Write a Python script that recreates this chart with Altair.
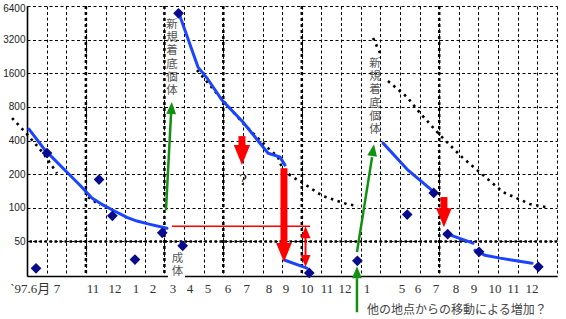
import altair as alt
import pandas as pd

# ---------------- axis geometry (data units) ----------------
U_MAX = 27                     # slot index along the (hand-drawn) time axis
V_MIN, V_MAX = 24.5, 6400      # log2 value axis
y_ticks = [50, 100, 200, 400, 800, 1600, 3200, 6400]
grid_u = list(range(0, U_MAX + 1))
thick_u = [3, 7, 10, 14, 21]
thick_v = [50]

month_labels = ["`97.6月", "7", "11", "12", "1", "2", "3", "4", "5", "6", "7", "8",
                "9", "10", "11", "12", "1", "5", "6", "7", "8", "9", "10", "11", "12"]
month_pos = [0.17, 1.53, 3.36, 4.48, 5.55, 6.42, 7.44, 8.30, 9.22, 10.24, 11.2, 12.33,
             13.19, 14.26, 15.28, 16.2, 17.32, 19.1, 19.92, 20.84, 21.85, 22.77, 23.84, 24.79, 25.73]
month_level = 18.6

# ---------------- observed densities (diamonds) ----------------
diam_u = [0.46, 1.02, 3.67, 4.35, 5.50, 6.89, 7.72, 7.93, 14.38, 16.83, 19.37, 20.72, 21.43, 23.03, 26.05]
diam_v = [28.7, 309, 179, 84.7, 34.4, 59.7, 5500, 45.6, 26.1, 33.5, 87, 135.7, 58, 40.3, 29.6]

# ---------------- blue fitted lines ----------------
blueA_u = [0.10, 0.92, 2.04, 2.70, 3.31, 3.87, 4.38, 5.09, 5.60, 6.27, 7.13]
blueA_v = [505, 328, 208, 159, 122, 106, 95, 82, 76, 71, 65.5]
blueB_u = [7.74, 8.71, 9.17, 9.93, 11.0, 11.46, 12.28, 12.89, 13.14]
blueB_v = [5500, 1816, 1450, 921, 585, 465, 308, 284, 241]
blueC_u = [13.14, 14.26]
blueC_v = [33.9, 28.8]
blueD_u = [18.14, 19.41, 20.68]
blueD_v = [379, 217, 141]
blueE_u = [21.29, 22.72]
blueE_v = [59.2, 48.2]
blueF_u = [22.82, 23.33, 24.10, 24.76, 25.73]
blueF_v = [41.7, 37.6, 35.4, 33.9, 31.9]

# ---------------- black dotted curves ----------------
dot1a_u = [-0.76, 0.0, 0.82, 1.53]
dot1a_v = [636, 456, 309, 204]
dot1b_u = [3.11, 3.72]
dot1b_v = [124.7, 105.7]
dot2_u = [8.66, 9.83, 11.0, 12.23, 12.79, 13.04, 13.55, 14.06, 15.08, 16.30, 16.86]
dot2_v = [1707, 979, 573, 349, 284, 217, 188, 166, 127, 108, 103.5]
dot3a_u = [17.63, 18.03]
dot3a_v = [3308, 2329]
dot3b_u = [18.39, 19.36, 20.02, 21.04, 22.16, 23.23, 24.25, 25.62, 26.49]
dot3b_v = [1362, 979, 705, 447, 284, 196, 138, 108, 101]

# ---------------- arrows ----------------
GREEN = "#119011"
RED = "#ff0000"
shaft_u = [7.08, 16.81, 16.81, 10.95, 13.09, 14.19, 21.24]
shaft_v = [95.3, 40.1, 11.6, 438, 226, 55.8, 124.7]
shaft_u2 = [7.34, 17.58, 16.81, 10.95, 13.09, 14.19, 21.24]
shaft_v2 = [705, 284, 23.4, 340, 46.3, 36.1, 95.3]
shaft_w = [2.5, 2.5, 2.5, 7, 7, 2, 7]
shaft_c = [GREEN, GREEN, GREEN, RED, RED, RED, RED]

UP = "M-0.82,1L0.82,1L0,-1Z"
DOWN = "M-0.82,-1L0.82,-1L0,1Z"
head_u = [7.36, 17.63, 16.81, 10.95, 13.09, 14.19, 14.19, 21.24]
head_v = [780, 328, 26.5, 296, 39.7, 60.5, 33.3, 81.4]
head_shape = [UP, UP, UP, DOWN, DOWN, UP, DOWN, DOWN]
head_size = [144, 144, 144, 400, 361, 144, 144, 361]
head_angle = [3, 9, 0, 0, 0, 0, 0, 0]
head_c = [GREEN, GREEN, GREEN, RED, RED, RED, RED, RED]

hline_u, hline_u2, hline_v = [7.39], [14.42], [68.3]

# ---------------- annotations (text top at given value) ----------------
vtext = ["新\n規\n着\n底\n個\n体", "新\n規\n着\n底\n個\n体", "成\n体"]
vtext_u = [7.39, 17.73, 7.67]
vtext_v = [4898, 2190, 39.2]
mask_u, mask_u2, mask_v, mask_v2 = [7.18], [8.05], [43.5], [22.9]
q_u, q_v = [11.0], [177]
note_text = ["他の地点からの移動による増加？"]
note_u, note_v = [17.32], [12.1]

# ====================================================================
xs = alt.Scale(domain=[0, U_MAX], nice=False, zero=False)
ys = alt.Scale(type="log", base=2, domain=[V_MIN, V_MAX], nice=False)

xaxis = alt.Axis(values=grid_u, labels=False, ticks=False, grid=True, gridDash=[3, 2.5],
                 gridColor="black", gridWidth=1, gridOpacity=1, domainColor="black",
                 domainWidth=1.6, title=None, zindex=0)
yaxis = alt.Axis(values=y_ticks, format="d", ticks=False, grid=True, gridDash=[3, 2.5],
                 gridColor="black", gridWidth=1, gridOpacity=1, domainColor="black",
                 domainWidth=1.6, labelFont="Liberation Sans", labelFontSize=10,
                 labelColor="#222", labelPadding=2, labelFlush=True, labelFlushOffset=3,
                 title=None, zindex=0)


def X(f="u"):
    return alt.X(f"{f}:Q", scale=xs, axis=xaxis, title=None)


def Y(f="v"):
    return alt.Y(f"{f}:Q", scale=ys, axis=yaxis, title=None)


def lines_df(pieces):
    rows = []
    for k, (us, vs) in enumerate(pieces):
        for i, (a, b) in enumerate(zip(us, vs)):
            rows.append({"u": a, "v": b, "seg": k, "o": i})
    return pd.DataFrame(rows)


blue_df = lines_df([(blueA_u, blueA_v), (blueB_u, blueB_v), (blueC_u, blueC_v),
                    (blueD_u, blueD_v), (blueE_u, blueE_v), (blueF_u, blueF_v)])
dot_df = lines_df([(dot1a_u, dot1a_v), (dot1b_u, dot1b_v), (dot2_u, dot2_v),
                   (dot3a_u, dot3a_v), (dot3b_u, dot3b_v)])

thick_x = alt.Chart(pd.DataFrame({"u": thick_u})).mark_rule(
    color="black", strokeWidth=2.5, strokeDash=[3, 3]).encode(x=X())
thick_y = alt.Chart(pd.DataFrame({"v": thick_v})).mark_rule(
    color="black", strokeWidth=2.5, strokeDash=[2.5, 2.5]).encode(y=Y())

dotted = alt.Chart(dot_df).mark_line(color="black", strokeWidth=2.6, strokeDash=[2.5, 4.5],
                                     strokeCap="butt").encode(
    x=X(), y=Y(), detail="seg:N", order="o:Q")

blue = alt.Chart(blue_df).mark_line(color="#1a44ff", strokeWidth=3, strokeCap="round").encode(
    x=X(), y=Y(), detail="seg:N", order="o:Q")

hline = alt.Chart(pd.DataFrame({"u": hline_u, "u2": hline_u2, "v": hline_v})).mark_rule(
    color=RED, strokeWidth=1.3).encode(x=X(), x2="u2:Q", y=Y())

shafts = alt.Chart(pd.DataFrame({"u": shaft_u, "v": shaft_v, "u2": shaft_u2, "v2": shaft_v2,
                                 "w": shaft_w, "c": shaft_c})).mark_rule(strokeCap="butt").encode(
    x=X(), y=Y(), x2="u2:Q", y2="v2:Q",
    strokeWidth=alt.StrokeWidth("w:Q", scale=None, legend=None),
    color=alt.Color("c:N", scale=None, legend=None))

heads = alt.Chart(pd.DataFrame({"u": head_u, "v": head_v, "s": head_shape, "z": head_size,
                                "a": head_angle, "c": head_c})).mark_point(
    filled=True, opacity=1, strokeWidth=0).encode(
    x=X(), y=Y(),
    shape=alt.Shape("s:N", scale=None, legend=None),
    size=alt.Size("z:Q", scale=None, legend=None),
    angle=alt.Angle("a:Q", scale=None, legend=None),
    color=alt.Color("c:N", scale=None, legend=None))

mask = alt.Chart(pd.DataFrame({"u": mask_u, "u2": mask_u2, "v": mask_v, "v2": mask_v2})).mark_rect(
    color="white").encode(x=X(), x2="u2:Q", y=Y(), y2="v2:Q")

diamonds = alt.Chart(pd.DataFrame({"u": diam_u, "v": diam_v})).mark_point(
    shape="diamond", filled=True, size=115, color="#0a0a8c", opacity=1).encode(x=X(), y=Y())

vt = alt.Chart(pd.DataFrame({"u": vtext_u, "v": vtext_v, "t": vtext})).mark_text(
    font="Noto Sans CJK JP", fontSize=11.5, lineHeight=13.2, lineBreak="\n", color="#555",
    baseline="top", align="center").encode(x=X(), y=Y(), text="t:N")

qmark = alt.Chart(pd.DataFrame({"u": q_u, "v": q_v, "t": ["?"]})).mark_text(
    font="DejaVu Serif", fontSize=15, color="#222", baseline="middle", align="center").encode(
    x=X(), y=Y(), text="t:N")

note = alt.Chart(pd.DataFrame({"u": note_u, "v": note_v, "t": note_text})).mark_text(
    font="Noto Sans CJK JP", fontSize=12, color="#444", align="left", baseline="middle").encode(
    x=X(), y=Y(), text="t:N")

months = alt.Chart(pd.DataFrame({"u": month_pos, "v": [month_level] * len(month_pos),
                                 "t": month_labels})).mark_text(
    font="Liberation Serif, Noto Sans CJK JP", fontSize=13, color="#333", baseline="middle",
    align="center").encode(x=X(), y=Y(), text="t:N")

chart = alt.layer(
    thick_x, thick_y, dotted, blue, hline, shafts, heads, mask, diamonds, vt, qmark, note, months
).properties(
    width=530, height=270,
    autosize=alt.AutoSizeParams(type="none"),
    padding={"left": 27, "top": 6, "right": 9, "bottom": 43},
    background="white",
).configure_view(strokeWidth=0)

chart.save("out.html", embed_options={"renderer": "svg", "actions": False})
